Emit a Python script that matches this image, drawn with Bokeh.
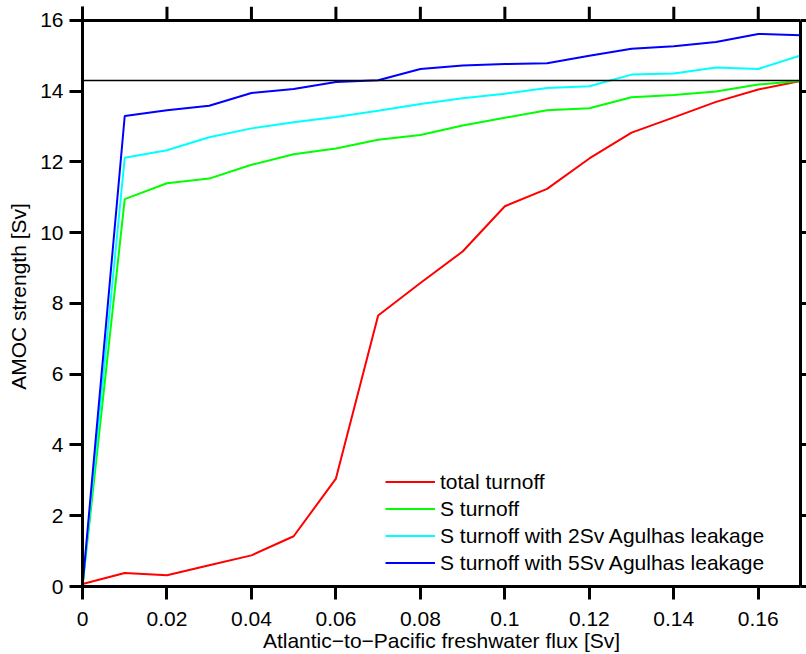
from bokeh.plotting import figure
from bokeh.models import (Range1d, LinearAxis, FixedTicker, Legend, LegendItem, Span,
                          CustomJSTickFormatter)
from bokeh.embed import file_html
from bokeh.resources import INLINE

# ---- data ----
flux = [0.00, 0.01, 0.02, 0.03, 0.04, 0.05, 0.06, 0.07, 0.08,
        0.09, 0.10, 0.11, 0.12, 0.13, 0.14, 0.15, 0.16, 0.17]
total_turnoff = [0.07, 0.38, 0.32, 0.60, 0.88, 1.42, 3.05, 7.66, 8.58,
                 9.47, 10.75, 11.24, 12.10, 12.83, 13.26, 13.70, 14.05, 14.29]
s_turnoff = [0.0, 10.95, 11.40, 11.53, 11.92, 12.22, 12.38, 12.63, 12.76,
             13.03, 13.25, 13.46, 13.52, 13.83, 13.89, 13.99, 14.19, 14.29]
s_turnoff_2sv = [0.0, 12.12, 12.33, 12.70, 12.95, 13.12, 13.27, 13.45, 13.64,
                 13.80, 13.93, 14.09, 14.14, 14.47, 14.50, 14.67, 14.63, 15.01]
s_turnoff_5sv = [0.0, 13.30, 13.46, 13.59, 13.95, 14.06, 14.26, 14.31, 14.63,
                 14.73, 14.77, 14.79, 15.00, 15.20, 15.27, 15.39, 15.62, 15.58]
reference_level = 14.3

series_names = ["total turnoff", "S turnoff",
                "S turnoff with 2Sv Agulhas leakage",
                "S turnoff with 5Sv Agulhas leakage"]
series_colors = ["#ff0000", "#00ff00", "#00ffff", "#0000ff"]

x_ticks = [0.0, 0.02, 0.04, 0.06, 0.08, 0.10, 0.12, 0.14, 0.16]
x_tick_labels = ["0", "0.02", "0.04", "0.06", "0.08", "0.1", "0.12", "0.14", "0.16"]
y_ticks = [0, 2, 4, 6, 8, 10, 12, 14, 16]
x_min, x_max = 0.0, 0.17
y_min, y_max = 0.0, 16.0

FONT = "Liberation Sans"
FS = "21px"
TOP_TICK = 0.395   # length of the top tick marks, in y units (about 14 px)

p = figure(width=806, height=654, output_backend="svg", toolbar_location=None,
           x_range=Range1d(x_min, x_max), y_range=Range1d(y_min, y_max + TOP_TICK),
           x_axis_label="Atlantic\u2212to\u2212Pacific freshwater flux [Sv]",
           y_axis_label="AMOC strength [Sv]",
           min_border_left=82, min_border_right=6, min_border_top=6, min_border_bottom=67)
p.title.visible = False
p.xgrid.visible = False
p.ygrid.visible = False
p.outline_line_color = None
p.background_fill_color = "white"
p.border_fill_color = "white"

def style_axis(ax, ticks, show_labels, tick_out):
    ax.ticker = FixedTicker(ticks=ticks)
    ax.axis_line_width = 3
    ax.axis_line_color = "black"
    ax.major_tick_line_width = 3
    ax.major_tick_line_color = "black"
    ax.major_tick_out = tick_out
    ax.major_tick_in = 0
    ax.minor_tick_line_color = None
    ax.major_label_text_font = FONT
    ax.major_label_text_color = "black"
    ax.major_label_text_font_size = FS
    ax.axis_label_text_font = FONT
    ax.axis_label_text_font_style = "normal"
    ax.axis_label_text_color = "black"
    ax.axis_label_text_font_size = FS
    if not show_labels:
        ax.formatter = CustomJSTickFormatter(code="return ''")
        ax.major_label_text_font_size = "0px"
        ax.major_label_standoff = 0
        ax.axis_label = None

xa = p.xaxis[0]
style_axis(xa, x_ticks, True, 13)
xa.major_label_overrides = {t: l for t, l in zip(x_ticks, x_tick_labels)}
xa.major_label_standoff = 12
xa.axis_label_standoff = 0

ya = p.yaxis[0]
style_axis(ya, y_ticks, True, 13)
ya.major_label_standoff = 6
ya.axis_label_standoff = 7

right = LinearAxis(bounds=(y_min, y_max))
style_axis(right, y_ticks, False, 6)
p.add_layout(right, "right")

# top edge of the box and its outward tick marks at the x tick values
p.add_layout(Span(location=y_max, dimension="width", line_color="black", line_width=3))
p.segment(x0=x_ticks, y0=[y_max] * len(x_ticks), x1=x_ticks,
          y1=[y_max + TOP_TICK] * len(x_ticks), line_color="black", line_width=3)

p.add_layout(Span(location=reference_level, dimension="width",
                  line_color="black", line_width=1.5))

renderers = []
for ys, c in zip([total_turnoff, s_turnoff, s_turnoff_2sv, s_turnoff_5sv], series_colors):
    r = p.line(flux, ys, line_color=c, line_width=2)
    renderers.append(r)

items = [LegendItem(label=n, renderers=[r]) for n, r in zip(series_names, renderers)]
legend = Legend(items=items, location=(303, 10), padding=0, margin=0, spacing=0,
                glyph_width=50, glyph_height=27, label_height=27, label_standoff=5,
                label_text_font=FONT, label_text_font_size=FS, label_text_color="black",
                background_fill_alpha=0, border_line_alpha=0)
p.add_layout(legend, "center")

open("out.html", "w").write(file_html(p, INLINE))
